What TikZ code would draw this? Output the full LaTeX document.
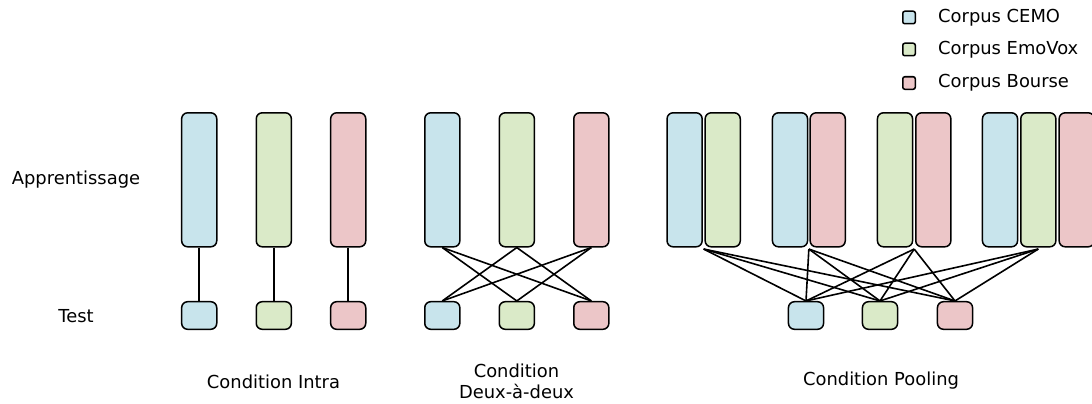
\documentclass[tikz,border=0pt]{standalone}
\usepackage{fontspec}
\setmainfont{DejaVu Sans}
\usetikzlibrary{calc}
\definecolor{cblue}{RGB}{200,228,236}
\definecolor{cgreen}{RGB}{218,234,200}
\definecolor{cred}{RGB}{236,198,200}
\tikzset{
  tall/.style={draw=black, line width=1.5pt, rounded corners=6pt, minimum width=35.1pt, minimum height=134pt, inner sep=0pt},
  testbox/.style={draw=black, line width=1.5pt, rounded corners=6pt, minimum width=35.1pt, minimum height=27.6pt, inner sep=0pt},
  legbox/.style={draw=black, line width=1.5pt, rounded corners=2pt, minimum width=12.5pt, minimum height=12.5pt, inner sep=0pt},
  lbl/.style={inner sep=0pt, font=\fontsize{17.9pt}{21pt}\selectfont, text=black},
  link/.style={line width=1.6pt, black},
}
\begin{document}
\begin{tikzpicture}[x=1pt, y=-1pt]
\useasboundingbox (0,0) rectangle (1092,404);
\clip (0,0) rectangle (1092,404);
% legend
\node[legbox, fill=cblue] (lb1) at (909,17.5) {};
\node[legbox, fill=cgreen] (lb2) at (909,49.5) {};
\node[legbox, fill=cred] (lb3) at (909,83) {};
\node[lbl, anchor=west] (lt1) at (938,17.5) {Corpus CEMO};
\node[lbl, anchor=west] (lt2) at (938,49.5) {Corpus EmoVox};
\node[lbl, anchor=west] (lt3) at (938,83) {Corpus Bourse};
% row labels
\node[lbl] (appr) at (76,180) {Apprentissage};
\node[lbl] (test) at (76,316) {Test};
% Intra
\node[tall, fill=cblue] (ia) at (199.2,179.8) {};
\node[tall, fill=cgreen] (ib) at (273.8,179.8) {};
\node[tall, fill=cred] (ic) at (348.2,179.8) {};
\node[testbox, fill=cblue] (ta) at (199.2,315.5) {};
\node[testbox, fill=cgreen] (tb) at (273.8,315.5) {};
\node[testbox, fill=cred] (tc) at (348.2,315.5) {};
\draw[link] (ia) -- (ta);
\draw[link] (ib) -- (tb);
\draw[link] (ic) -- (tc);
\node[lbl] (cintra) at (273.5,382) {Condition Intra};
% Deux-a-deux
\node[tall, fill=cblue] (da) at (442.3,179.8) {};
\node[tall, fill=cgreen] (db) at (516.8,179.8) {};
\node[tall, fill=cred] (dc) at (591.3,179.8) {};
\node[testbox, fill=cblue] (dta) at (442.3,315.5) {};
\node[testbox, fill=cgreen] (dtb) at (516.8,315.5) {};
\node[testbox, fill=cred] (dtc) at (591.3,315.5) {};
\draw[link] (da.south) -- (dtb.north);
\draw[link] (da.south) -- (dtc.north);
\draw[link] (db.south) -- (dta.north);
\draw[link] (db.south) -- (dtc.north);
\draw[link] (dc.south) -- (dta.north);
\draw[link] (dc.south) -- (dtb.north);
\node[lbl, align=center] (cdeux) at (516.5,381.5) {Condition\\Deux-à-deux};
% Pooling
\node[tall, fill=cblue] (p1a) at (684.6,179.8) {};
\node[tall, fill=cgreen] (p1b) at (722.7,179.8) {};
\node[tall, fill=cblue] (p2a) at (790,179.8) {};
\node[tall, fill=cred] (p2b) at (827.7,179.8) {};
\node[tall, fill=cgreen] (p3a) at (895,179.8) {};
\node[tall, fill=cred] (p3b) at (933.3,179.8) {};
\node[tall, fill=cblue] (p4a) at (1000,179.8) {};
\node[tall, fill=cgreen] (p4b) at (1038.3,179.8) {};
\node[tall, fill=cred] (p4c) at (1076.7,179.8) {};
\node[testbox, fill=cblue] (pta) at (806,315.5) {};
\node[testbox, fill=cgreen] (ptb) at (880,315.5) {};
\node[testbox, fill=cred] (ptc) at (955,315.5) {};
\coordinate (j1) at ($(p1a.south east)!0.5!(p1b.south west)+(0,1.5)$);
\coordinate (j2) at ($(p2a.south east)!0.5!(p2b.south west)+(0,1.5)$);
\coordinate (j3) at ($(p3a.south east)!0.5!(p3b.south west)+(0,1.5)$);
\coordinate (j4) at ($(p4b.south)+(0,1.5)$);
\foreach \j in {j1,j2,j3,j4}{
  \foreach \t in {pta,ptb,ptc}{
    \draw[link] (\j) -- (\t.north);
  }
}
\node[lbl] (cpool) at (881,381) {Condition Pooling};
\end{tikzpicture}
\end{document}
